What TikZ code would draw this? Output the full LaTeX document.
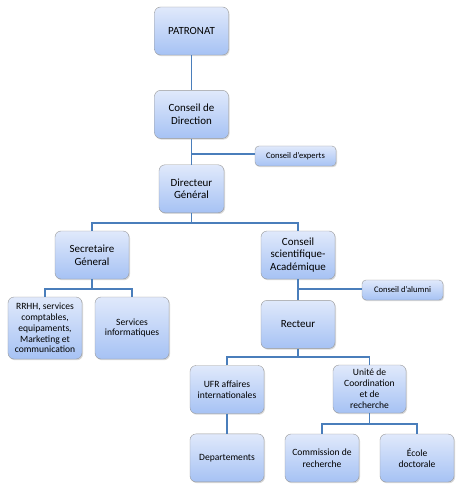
\documentclass[tikz,border=0pt]{standalone}
\usepackage{fontspec}
\setmainfont{Carlito}
\usetikzlibrary{positioning,shadows}

\definecolor{boxtop}{HTML}{E0E9FB}
\definecolor{boxbot}{HTML}{A6C2F4}
\definecolor{linkblue}{HTML}{4A7EBB}

\begin{document}
\begin{tikzpicture}[x=1bp,y=-1bp,node distance=20bp,
    unit/.style={draw=black!40,rounded corners=6bp,top color=boxtop,bottom color=boxbot,
                 drop shadow={shadow xshift=1bp,shadow yshift=-1.2bp,opacity=.3},
                 align=center,inner sep=2bp,minimum width=74bp,minimum height=48bp,
                 font=\fontsize{11}{12.7}\selectfont},
    small/.style={unit,minimum height=62bp,font=\fontsize{9.6}{10.8}\selectfont},
    side/.style={unit,rounded corners=4bp,minimum width=81bp,minimum height=20bp,
                 font=\fontsize{8.6}{10}\selectfont},
    link/.style={draw=linkblue,line width=1.6bp}]

    \useasboundingbox (0,0) rectangle (459,492);

    % top of the chart
    \node[unit] (patronat) at (191.5,31) {PATRONAT};
    \node[unit] (direction) [below=35bp of patronat] {Conseil de\\Direction};
    \node[unit,minimum width=65bp] (directeur) [below=26bp of direction] {Directeur\\Général};
    \node[side] (experts) at (295.5,156) {Conseil d'experts};

    % left branch
    \node[unit] (secretaire) at (92,255) {Secretaire\\Géneral};
    \node[small] (rrhh) at (45,328) {RRHH, services\\comptables,\\equipaments,\\Marketing et\\communication};
    \node[small] (info) at (132,328) {Services\\informatiques};

    % right branch
    \node[unit] (academique) at (298,255) {Conseil\\scientifique-\\Académique};
    \node[side] (alumni) at (402.5,290) {Conseil d'alumni};
    \node[unit] (recteur) [below=21bp of academique] {Recteur};
    \node[unit,font=\fontsize{9.6}{11.5}\selectfont] (ufr) at (227,389.5) {UFR affaires\\internationales};
    \node[unit,minimum width=73bp,font=\fontsize{9.6}{11}\selectfont] (unite) at (369.5,389) {Unité de\\Coordination\\et de\\recherche};
    \node[unit,font=\fontsize{9.6}{11.5}\selectfont] (depts) [below=20bp of ufr] {Departements};
    \node[unit,font=\fontsize{9.6}{11.5}\selectfont] (commission) at (322,458) {Commission de\\recherche};
    \node[unit,font=\fontsize{9.6}{11.5}\selectfont] (ecole) at (417,458) {École\\doctorale};

    % junctions
    \coordinate (jexp) at (191.5,154);
    \coordinate (jdg) at (191.5,223);
    \coordinate (jsec) at (92,289);
    \coordinate (jalu) at (298,289);
    \coordinate (jrec) at (298,357);
    \coordinate (juni) at (369.5,424);

    \path[link] (patronat) -- (direction)
                (direction) -- (directeur)
                (jexp) -- (jexp -| experts.west)
                (directeur) -- (jdg)
                (secretaire.north) |- (jdg) -| (academique.north)
                (secretaire) -- (jsec)
                (rrhh.north) |- (jsec) -| (info.north)
                (academique) -- (recteur)
                (jalu) -- (jalu -| alumni.west)
                (recteur) -- (jrec)
                (ufr.north) |- (jrec) -| (unite.north)
                (ufr) -- (depts)
                (unite) -- (juni)
                (commission.north) |- (juni) -| (ecole.north);
\end{tikzpicture}
\end{document}
